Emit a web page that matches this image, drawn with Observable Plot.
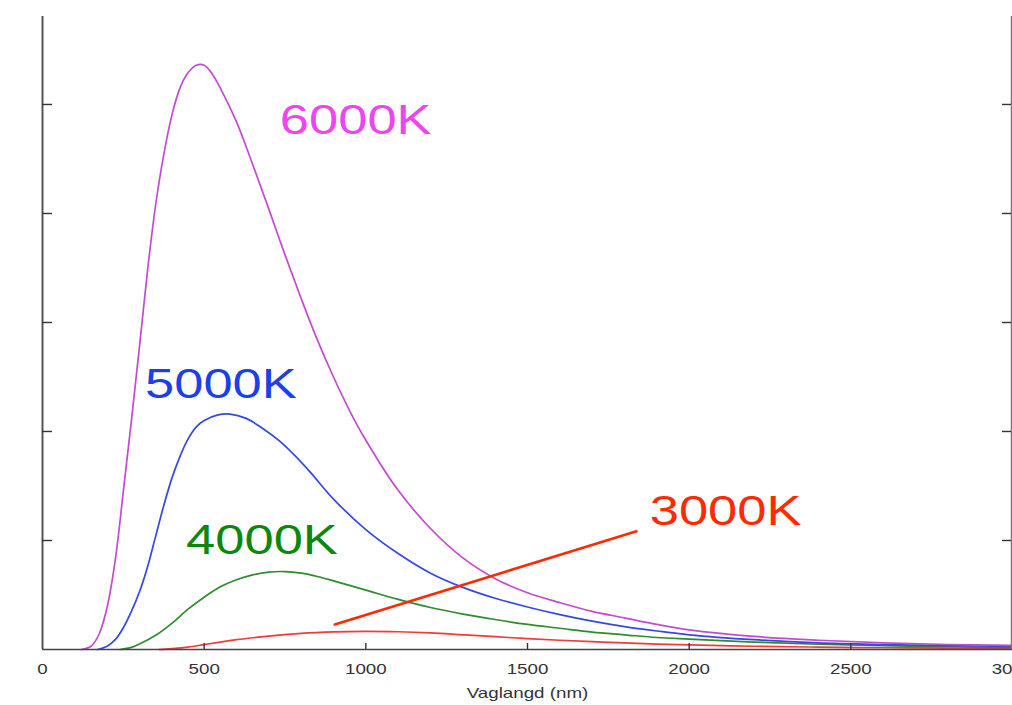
<!DOCTYPE html>
<html><head><meta charset="utf-8">
<script src="https://cdn.jsdelivr.net/npm/d3@7"></script>
<script src="https://cdn.jsdelivr.net/npm/@observablehq/plot@0.6"></script>
<style>html,body{margin:0;padding:0;background:#fff;overflow:hidden}</style>
</head><body><div id="chart"></div>
<script>
// Tick values
const xTicks = [0, 500, 1000, 1500, 2000, 2500, 3000];
const xTickMarks = [500, 1000, 1500, 2000, 2500];
const yTicks = [1, 2, 3, 4, 5];

// Series (wavelength in nm, relative intensity)
const w6000 = [120,150,175,200,225,250,275,300,325,350,375,400,425,450,475,500,525,550,600,650,700,750,800,850,900,950,1000,1100,1200,1300,1400,1500,1600,1700,1800,1900,2000,2200,2400,2600,2800,3000];
const i6000 = [0,0.03,0.14,0.39,0.82,1.45,2.10,2.78,3.48,4.08,4.54,4.90,5.15,5.29,5.36,5.36,5.28,5.15,4.84,4.45,4.04,3.62,3.22,2.84,2.50,2.19,1.92,1.46,1.11,0.84,0.65,0.52,0.43,0.35,0.29,0.23,0.18,0.12,0.085,0.06,0.046,0.037];

const w5000 = [170,200,225,250,275,300,325,350,375,400,425,450,475,500,540,580,630,680,730,780,830,900,1000,1100,1200,1300,1400,1500,1600,1700,1800,1900,2000,2200,2400,2600,2800,3000];
const i5000 = [0,0.03,0.09,0.20,0.35,0.53,0.76,1.04,1.32,1.57,1.77,1.93,2.04,2.10,2.15,2.16,2.12,2.03,1.92,1.78,1.62,1.38,1.10,0.88,0.70,0.57,0.47,0.39,0.32,0.26,0.21,0.17,0.135,0.09,0.06,0.045,0.035,0.028];

const w4000 = [240,275,300,350,400,450,500,550,600,650,700,750,800,850,900,1000,1100,1200,1300,1400,1500,1600,1700,1800,1900,2000,2200,2400,2600,2800,3000];
const i4000 = [0,0.02,0.05,0.13,0.24,0.37,0.48,0.575,0.64,0.685,0.71,0.715,0.70,0.67,0.63,0.545,0.46,0.385,0.325,0.275,0.23,0.195,0.16,0.135,0.11,0.095,0.068,0.048,0.035,0.025,0.018];

const w3000 = [360,400,450,500,550,600,700,800,900,1000,1100,1200,1300,1400,1500,1600,1700,1800,1900,2000,2200,2400,2600,2800,3000];
const i3000 = [0,0.008,0.022,0.045,0.068,0.09,0.122,0.148,0.162,0.167,0.163,0.152,0.135,0.118,0.10,0.085,0.072,0.06,0.05,0.042,0.03,0.022,0.016,0.012,0.01];

const seriesNames = ["3000K", "4000K", "5000K", "6000K"];
const seriesW = [w3000, w4000, w5000, w6000];
const seriesI = [i3000, i4000, i5000, i6000];
const lineColors = ["#f23a3a", "#2e8b2e", "#3548e0", "#c24ccf"];

// Labels
const labelText = ["6000K", "5000K", "4000K", "3000K"];
const labelX = [734, 317, 444, 1878];
const labelY = [4.73, 2.31, 0.88, 1.14];
const labelColors = ["#ee46ee", "#1d3fe8", "#0b880b", "#ff2a00"];

// Pointer line for 3000K
const pointerX = [904, 1837];
const pointerY = [0.229, 1.085];

const xTitle = "Vaglangd (nm)";

const marks = [];
seriesNames.forEach((name, k) => {
  const rows = seriesW[k].map((w, j) => ({w, v: seriesI[k][j]}));
  marks.push(Plot.line(rows, {x: "w", y: "v", stroke: lineColors[k], strokeWidth: 1.7, curve: "catmull-rom"}));
});
marks.push(Plot.line(pointerX.map((x, j) => ({x, y: pointerY[j]})), {x: "x", y: "y", stroke: "#ff2a00", strokeWidth: 2.6}));
marks.push(Plot.text(labelText.map((t, j) => j), {
  x: j => labelX[j], y: j => labelY[j], text: j => labelText[j], fill: j => labelColors[j],
  textAnchor: "start", lineAnchor: "bottom", fontSize: 42
}));
// frame
marks.push(Plot.ruleX([0], {stroke: "#555", strokeWidth: 2}));
marks.push(Plot.ruleX([3000], {stroke: "#777", strokeWidth: 1.5, dx: -1}));
marks.push(Plot.ruleY([0], {stroke: "#444", strokeWidth: 1.6}));
// ticks
marks.push(Plot.ruleY(yTicks, {insetRight: 960, stroke: "#333", strokeWidth: 1.4}));
marks.push(Plot.ruleY(yTicks, {insetLeft: 961, dx: -1, stroke: "#333", strokeWidth: 1.4}));
marks.push(Plot.ruleX(xTickMarks, {insetTop: 627, stroke: "#333", strokeWidth: 1.4}));
// tick labels
marks.push(Plot.text(xTicks, {x: d => d, frameAnchor: "bottom", dy: 24, lineAnchor: "bottom", text: d => String(d), fontSize: 15, fill: "#333"}));
marks.push(Plot.text([xTitle], {frameAnchor: "bottom", dy: 48, lineAnchor: "bottom", fontSize: 15, fill: "#333"}));

const svg = Plot.plot({
  width: 1012,
  height: 705,
  marginTop: 16,
  marginBottom: 56,
  marginLeft: 42,
  marginRight: 0,
  style: {fontFamily: "'Liberation Sans', Arial, Helvetica, sans-serif", background: "#fff", overflow: "hidden"},
  x: {domain: [0, 3000], axis: null},
  y: {domain: [0, 5.807], axis: null},
  marks
});
document.getElementById("chart").append(svg);
// widen glyphs horizontally like the reference
svg.querySelectorAll("text").forEach(t => {
  const L = t.getComputedTextLength();
  t.setAttribute("textLength", (L * 1.25).toFixed(1));
  t.setAttribute("lengthAdjust", "spacingAndGlyphs");
});
</script></body></html>
